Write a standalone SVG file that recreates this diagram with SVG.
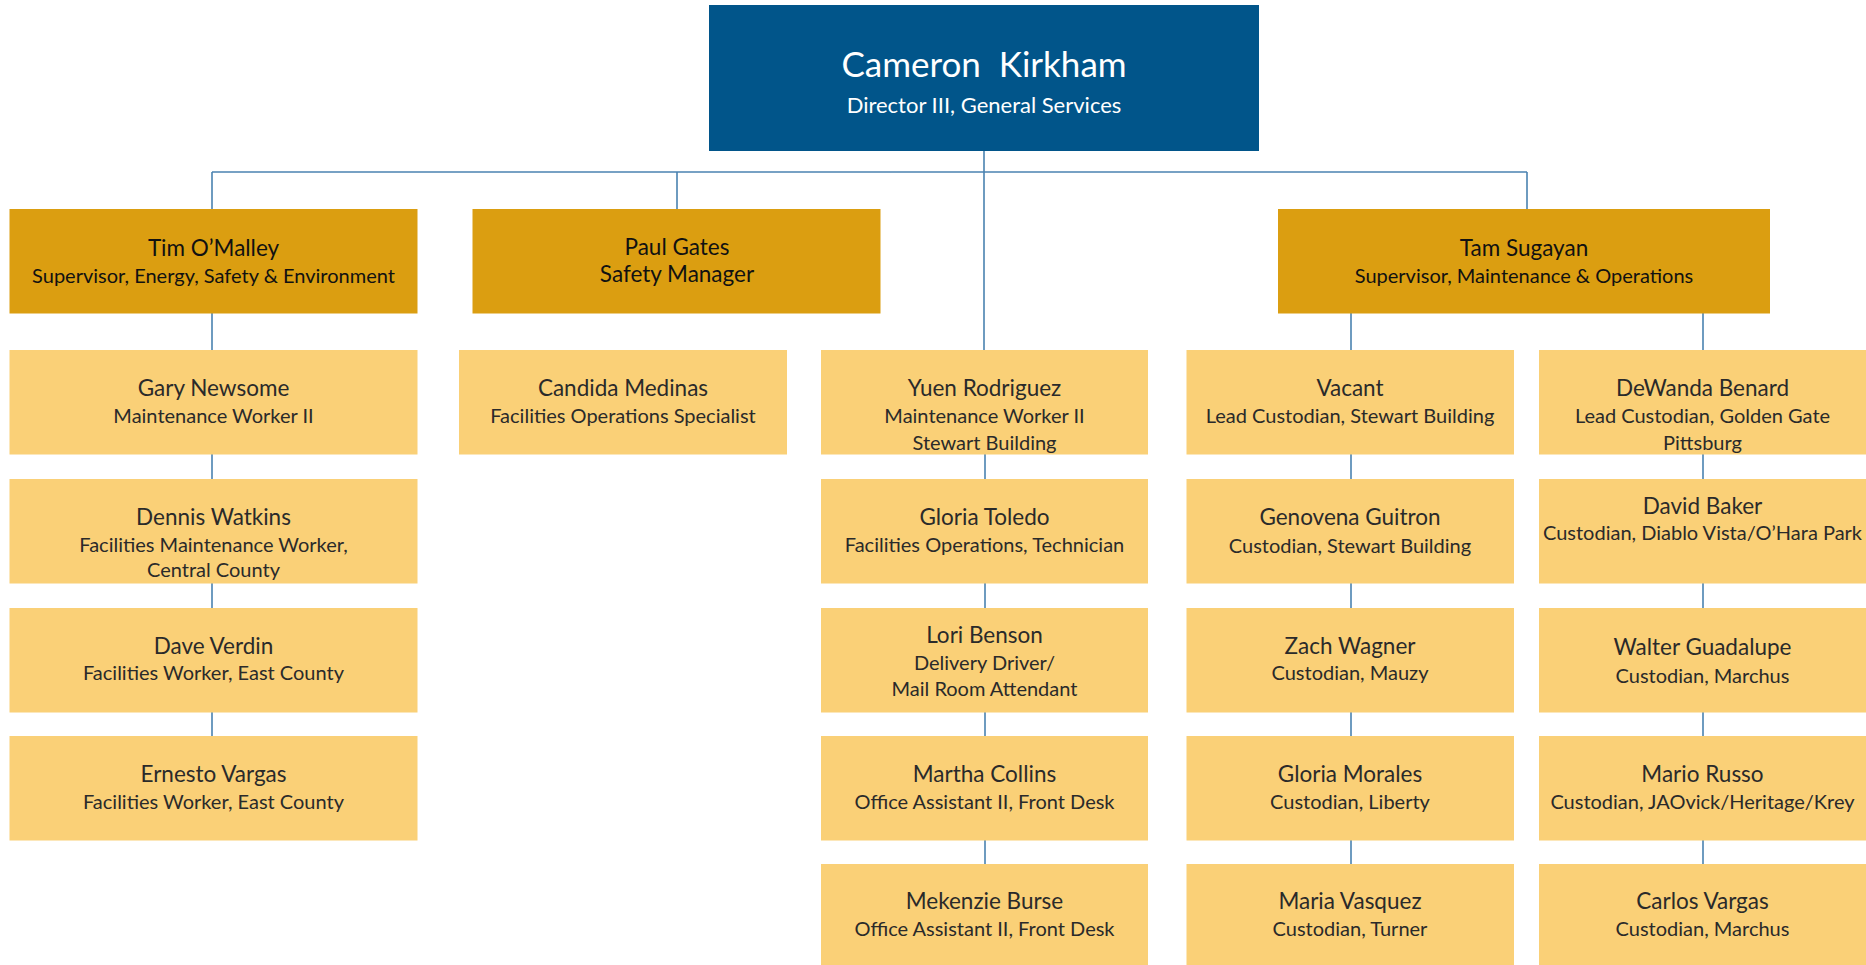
<svg xmlns="http://www.w3.org/2000/svg" width="1866" height="965" viewBox="0 0 1866 965">
<style>
  text { font-family: Lato, "Open Sans", "Liberation Sans", sans-serif; text-anchor: middle; }
  .top { fill: #01558a; }
  .sup { fill: #db9e11; }
  .emp { fill: #fad077; }
  .tn { fill: #ffffff; font-size: 35px; white-space: pre; }
  .ts { fill: #ffffff; font-size: 22px; }
  .n2 { fill: #111111; font-size: 22.5px; }
  .s2 { fill: #111111; font-size: 20px; }
  .n { fill: #2a2a2a; font-size: 22.5px; }
  .s { fill: #2a2a2a; font-size: 20px; }
  .conn line { stroke: #4a82b0; stroke-width: 1.6; }
</style>
<rect width="1866" height="965" fill="#ffffff"/>
<g class="conn" id="connectors">
  <line x1="984" y1="151" x2="984" y2="350"/>
  <line x1="212" y1="172" x2="1527" y2="172"/>
  <line x1="212" y1="172" x2="212" y2="209"/>
  <line x1="677" y1="172" x2="677" y2="209"/>
  <line x1="1527" y1="172" x2="1527" y2="209"/>
  <line x1="212" y1="313" x2="212" y2="350"/>
  <line x1="212" y1="454" x2="212" y2="479"/>
  <line x1="212" y1="583" x2="212" y2="608"/>
  <line x1="212" y1="712" x2="212" y2="736"/>
  <line x1="985" y1="454" x2="985" y2="479"/>
  <line x1="985" y1="583" x2="985" y2="608"/>
  <line x1="985" y1="712" x2="985" y2="736"/>
  <line x1="985" y1="840" x2="985" y2="864"/>
  <line x1="1351" y1="313" x2="1351" y2="350"/>
  <line x1="1351" y1="454" x2="1351" y2="479"/>
  <line x1="1351" y1="583" x2="1351" y2="608"/>
  <line x1="1351" y1="712" x2="1351" y2="736"/>
  <line x1="1351" y1="840" x2="1351" y2="864"/>
  <line x1="1703" y1="313" x2="1703" y2="350"/>
  <line x1="1703" y1="454" x2="1703" y2="479"/>
  <line x1="1703" y1="583" x2="1703" y2="608"/>
  <line x1="1703" y1="712" x2="1703" y2="736"/>
  <line x1="1703" y1="840" x2="1703" y2="864"/>
</g>
<g id="cameron">
  <rect class="top" x="709" y="5" width="550" height="146"/>
  <text class="tn" x="984" y="77">Cameron  Kirkham</text>
  <text class="ts" x="984" y="113">Director III, General Services</text>
</g>
<g id="tim">
  <rect class="sup" x="9.5" y="209" width="408" height="104.5"/>
  <text class="n2" x="213.5" y="256">Tim O’Malley</text>
  <text class="s2" x="213.5" y="283">Supervisor, Energy, Safety &amp; Environment</text>
</g>
<g id="paul">
  <rect class="sup" x="472.5" y="209" width="408" height="104.5"/>
  <text class="n2" x="677" y="255">Paul Gates</text>
  <text class="n2" x="677" y="282">Safety Manager</text>
</g>
<g id="tam">
  <rect class="sup" x="1278" y="209" width="492" height="104.5"/>
  <text class="n2" x="1524" y="256">Tam Sugayan</text>
  <text class="s2" x="1524" y="283">Supervisor, Maintenance &amp; Operations</text>
</g>
<g id="gary">
  <rect class="emp" x="9.5" y="350" width="408" height="104.5"/>
  <text class="n" x="213.5" y="396">Gary Newsome</text>
  <text class="s" x="213.5" y="423">Maintenance Worker II</text>
</g>
<g id="dennis">
  <rect class="emp" x="9.5" y="479" width="408" height="104.5"/>
  <text class="n" x="213.5" y="525">Dennis Watkins</text>
  <text class="s" x="213.5" y="552">Facilities Maintenance Worker,</text>
  <text class="s" x="213.5" y="577">Central County</text>
</g>
<g id="daveverdin">
  <rect class="emp" x="9.5" y="608" width="408" height="104.5"/>
  <text class="n" x="213.5" y="653.5">Dave Verdin</text>
  <text class="s" x="213.5" y="680">Facilities Worker, East County</text>
</g>
<g id="ernesto">
  <rect class="emp" x="9.5" y="736" width="408" height="104.5"/>
  <text class="n" x="213.5" y="782">Ernesto Vargas</text>
  <text class="s" x="213.5" y="809">Facilities Worker, East County</text>
</g>
<g id="candida">
  <rect class="emp" x="459" y="350" width="328" height="104.5"/>
  <text class="n" x="623" y="396">Candida Medinas</text>
  <text class="s" x="623" y="423">Facilities Operations Specialist</text>
</g>
<g id="yuen">
  <rect class="emp" x="821" y="350" width="327" height="104.5"/>
  <text class="n" x="984.5" y="396">Yuen Rodriguez</text>
  <text class="s" x="984.5" y="423">Maintenance Worker II</text>
  <text class="s" x="984.5" y="450">Stewart Building</text>
</g>
<g id="gloriatoledo">
  <rect class="emp" x="821" y="479" width="327" height="104.5"/>
  <text class="n" x="984.5" y="525">Gloria Toledo</text>
  <text class="s" x="984.5" y="552">Facilities Operations, Technician</text>
</g>
<g id="lori">
  <rect class="emp" x="821" y="608" width="327" height="104.5"/>
  <text class="n" x="984.5" y="643">Lori Benson</text>
  <text class="s" x="984.5" y="670">Delivery Driver/</text>
  <text class="s" x="984.5" y="696">Mail Room Attendant</text>
</g>
<g id="martha">
  <rect class="emp" x="821" y="736" width="327" height="104.5"/>
  <text class="n" x="984.5" y="782">Martha Collins</text>
  <text class="s" x="984.5" y="809">Office Assistant II, Front Desk</text>
</g>
<g id="mekenzie">
  <rect class="emp" x="821" y="864" width="327" height="101"/>
  <text class="n" x="984.5" y="909">Mekenzie Burse</text>
  <text class="s" x="984.5" y="936">Office Assistant II, Front Desk</text>
</g>
<g id="vacant">
  <rect class="emp" x="1186.5" y="350" width="327.5" height="104.5"/>
  <text class="n" x="1350" y="396">Vacant</text>
  <text class="s" x="1350" y="423">Lead Custodian, Stewart Building</text>
</g>
<g id="genovena">
  <rect class="emp" x="1186.5" y="479" width="327.5" height="104.5"/>
  <text class="n" x="1350" y="525">Genovena Guitron</text>
  <text class="s" x="1350" y="552.5">Custodian, Stewart Building</text>
</g>
<g id="zach">
  <rect class="emp" x="1186.5" y="608" width="327.5" height="104.5"/>
  <text class="n" x="1350" y="653.5">Zach Wagner</text>
  <text class="s" x="1350" y="680">Custodian, Mauzy</text>
</g>
<g id="gloriamorales">
  <rect class="emp" x="1186.5" y="736" width="327.5" height="104.5"/>
  <text class="n" x="1350" y="782">Gloria Morales</text>
  <text class="s" x="1350" y="809">Custodian, Liberty</text>
</g>
<g id="maria">
  <rect class="emp" x="1186.5" y="864" width="327.5" height="101"/>
  <text class="n" x="1350" y="909">Maria Vasquez</text>
  <text class="s" x="1350" y="936">Custodian, Turner</text>
</g>
<g id="dewanda">
  <rect class="emp" x="1539" y="350" width="327" height="104.5"/>
  <text class="n" x="1702.5" y="396">DeWanda Benard</text>
  <text class="s" x="1702.5" y="423">Lead Custodian, Golden Gate</text>
  <text class="s" x="1702.5" y="450">Pittsburg</text>
</g>
<g id="david">
  <rect class="emp" x="1539" y="479" width="327" height="104.5"/>
  <text class="n" x="1702.5" y="513.5">David Baker</text>
  <text class="s" x="1702.5" y="540">Custodian, Diablo Vista/O’Hara Park</text>
</g>
<g id="walter">
  <rect class="emp" x="1539" y="608" width="327" height="104.5"/>
  <text class="n" x="1702.5" y="655">Walter Guadalupe</text>
  <text class="s" x="1702.5" y="682.5">Custodian, Marchus</text>
</g>
<g id="mario">
  <rect class="emp" x="1539" y="736" width="327" height="104.5"/>
  <text class="n" x="1702.5" y="782">Mario Russo</text>
  <text class="s" x="1702.5" y="809">Custodian, JAOvick/Heritage/Krey</text>
</g>
<g id="carlos">
  <rect class="emp" x="1539" y="864" width="327" height="101"/>
  <text class="n" x="1702.5" y="909">Carlos Vargas</text>
  <text class="s" x="1702.5" y="936">Custodian, Marchus</text>
</g>
</svg>
